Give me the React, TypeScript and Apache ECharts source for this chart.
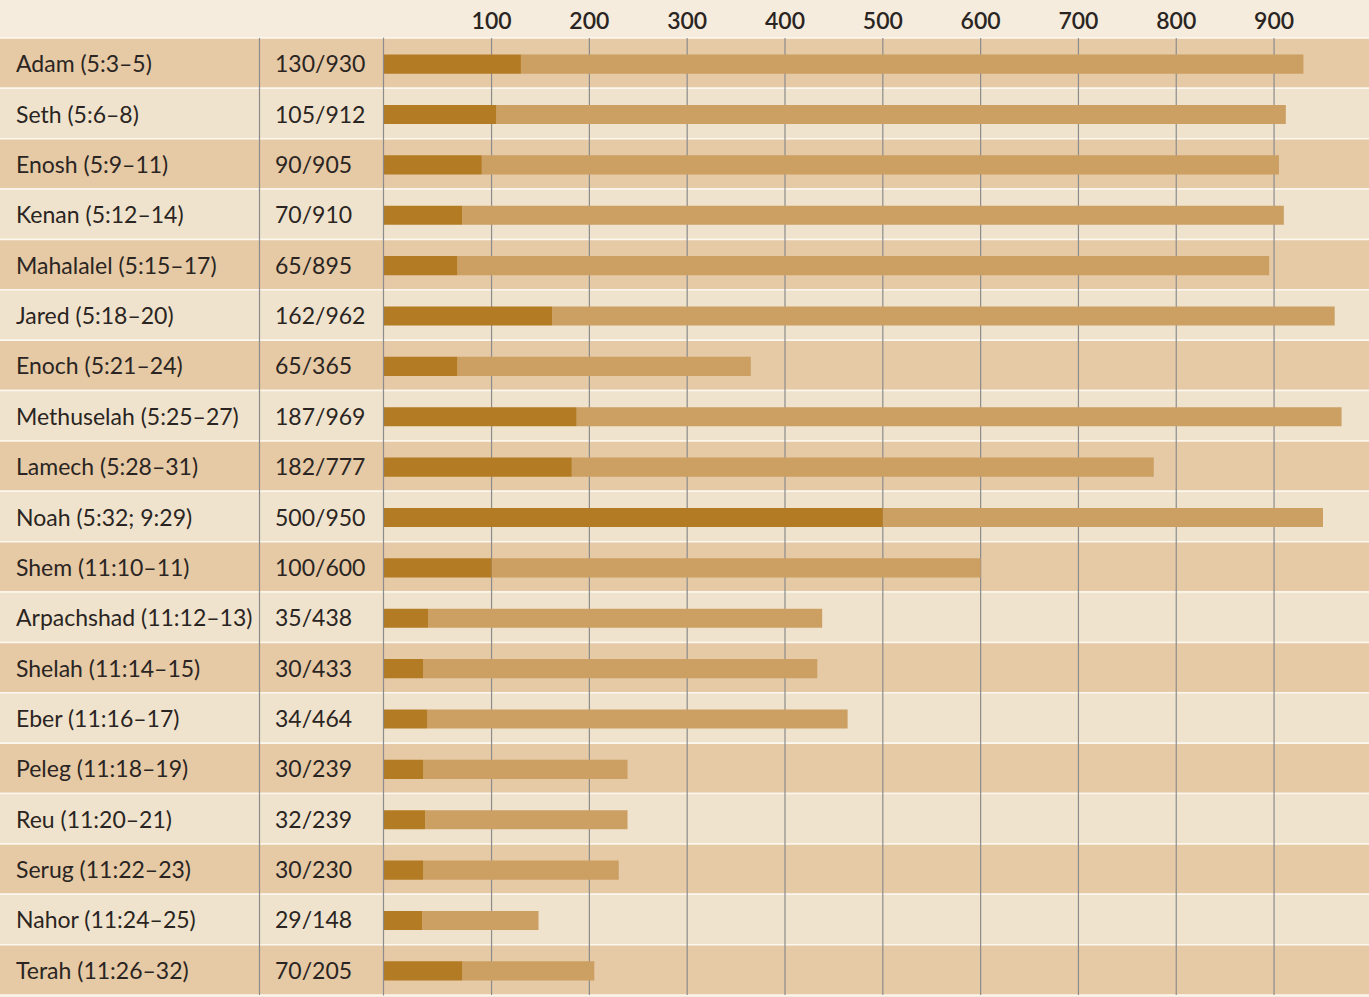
import React, { useEffect, useRef } from "react";
import * as echarts from "echarts";

const names = [
  "Adam (5:3–5)",
  "Seth (5:6–8)",
  "Enosh (5:9–11)",
  "Kenan (5:12–14)",
  "Mahalalel (5:15–17)",
  "Jared (5:18–20)",
  "Enoch (5:21–24)",
  "Methuselah (5:25–27)",
  "Lamech (5:28–31)",
  "Noah (5:32; 9:29)",
  "Shem (11:10–11)",
  "Arpachshad (11:12–13)",
  "Shelah (11:14–15)",
  "Eber (11:16–17)",
  "Peleg (11:18–19)",
  "Reu (11:20–21)",
  "Serug (11:22–23)",
  "Nahor (11:24–25)",
  "Terah (11:26–32)",
];
const fatherAge = [130, 105, 90, 70, 65, 162, 65, 187, 182, 500, 100, 35, 30, 34, 30, 32, 30, 29, 70];
const lifespan = [930, 912, 905, 910, 895, 962, 365, 969, 777, 950, 600, 438, 433, 464, 239, 239, 230, 148, 205];
const tickLabels = [100, 200, 300, 400, 500, 600, 700, 800, 900];

const FONT = "Lato";
const TEXT = "#2a2522";
const ROW_DARK = "#e6c9a5";
const ROW_LIGHT = "#f0e3cd";
const HEADER = "#f5ecdd";
const SEP = "#fcf7ef";
const BAR_DARK = "#b37b24";
const BAR_LIGHT = "#cc9f63";
const RULE = "#8c8c8c";

export default function App() {
  const ref = useRef<HTMLDivElement>(null);
  useEffect(() => {
    if (!ref.current) return;
    const chart = echarts.init(ref.current, null, { renderer: "svg" });
    const top = 38;
    const bottom = 2;
    const option: any = {
      animation: false,
      backgroundColor: HEADER,
      grid: [
        { left: 0, right: 0, top, bottom },
        { left: 383, right: 0, top, bottom },
      ],
      xAxis: [
        { gridIndex: 0, type: "value", min: 0, max: 1, show: false },
        {
          gridIndex: 1,
          type: "value",
          position: "top",
          min: -11,
          max: 994,
          splitNumber: 10,
          z: 10,
          axisLine: { show: false },
          axisTick: { show: false },
          splitLine: { show: false },
          axisLabel: {
            margin: 7,
            color: TEXT,
            fontFamily: FONT,
            fontSize: 23,
            fontWeight: 600,
            formatter: (v: number) => (tickLabels.includes(v) ? String(v) : ""),
          },
        },
      ],
      yAxis: [
        {
          gridIndex: 0,
          type: "category",
          inverse: true,
          data: names,
          show: false,
        },
        {
          gridIndex: 1,
          type: "category",
          inverse: true,
          data: names,
          z: 10,
          axisLine: { show: true, onZero: false, lineStyle: { color: RULE, width: 1.2 } },
          axisTick: { show: false },
          splitLine: { show: false },
          axisLabel: {
            align: "left",
            margin: 367,
            formatter: (v: string, i: number) => `{n|${v}}{r|${fatherAge[i]}/${lifespan[i]}}`,
            rich: {
              n: { width: 259, color: TEXT, fontFamily: FONT, fontSize: 23 },
              r: { color: TEXT, fontFamily: FONT, fontSize: 23 },
            },
          },
        },
      ],
      graphic: [
        {
          type: "line",
          shape: { x1: 259.5, y1: top, x2: 259.5, y2: 997 - bottom },
          style: { stroke: RULE, lineWidth: 1.2 },
          z: 50,
        },
      ],
      series: [
        {
          type: "custom",
          name: "rows",
          xAxisIndex: 0,
          yAxisIndex: 0,
          z: 1,
          silent: true,
          data: names.map((_, i) => [0, i]),
          encode: { x: 0, y: 1 },
          renderItem: (params: any, api: any) => {
            const yi = api.value(1);
            const p = api.coord([0, yi]);
            const bw = api.size([0, 1])[1];
            const cs = params.coordSys;
            const y0 = p[1] - bw / 2;
            return {
              type: "group",
              children: [
                {
                  type: "rect",
                  shape: { x: cs.x, y: y0, width: cs.width, height: bw },
                  style: { fill: yi % 2 === 0 ? ROW_DARK : ROW_LIGHT },
                },
                {
                  type: "line",
                  shape: { x1: cs.x, y1: y0, x2: cs.x + cs.width, y2: y0 },
                  style: { stroke: SEP, lineWidth: 1.5 },
                },
                {
                  type: "line",
                  shape: { x1: cs.x, y1: y0 + bw, x2: cs.x + cs.width, y2: y0 + bw },
                  style: { stroke: SEP, lineWidth: 1.5 },
                },
              ],
            };
          },
        },
        {
          type: "custom",
          name: "grid lines",
          xAxisIndex: 1,
          yAxisIndex: 1,
          z: 2,
          silent: true,
          data: tickLabels.map((v) => [v, 0]),
          encode: { x: 0, y: 1 },
          renderItem: (params: any, api: any) => {
            const p = api.coord([api.value(0), 0]);
            const cs = params.coordSys;
            return {
              type: "line",
              shape: { x1: p[0], y1: cs.y, x2: p[0], y2: cs.y + cs.height },
              style: { stroke: RULE, lineWidth: 1.2 },
            };
          },
        },
        {
          type: "custom",
          name: "lifespan",
          xAxisIndex: 1,
          yAxisIndex: 1,
          z: 3,
          data: names.map((_, i) => [fatherAge[i], lifespan[i], i]),
          encode: { x: [0, 1], y: 2 },
          renderItem: (params: any, api: any) => {
            const yi = api.value(2);
            const pF = api.coord([api.value(0), yi]);
            const pL = api.coord([api.value(1), yi]);
            const h = api.size([0, 1])[1] * 0.38;
            const x0 = params.coordSys.x + 0.6;
            const yc = pF[1] + 1;
            return {
              type: "group",
              children: [
                {
                  type: "rect",
                  shape: { x: pF[0], y: yc - h / 2, width: pL[0] - pF[0], height: h },
                  style: { fill: BAR_LIGHT },
                },
                {
                  type: "rect",
                  shape: { x: x0, y: yc - h / 2, width: pF[0] - x0, height: h },
                  style: { fill: BAR_DARK },
                },
              ],
            };
          },
        },
      ],
    };
    chart.setOption(option);
    return () => chart.dispose();
  }, []);
  return (
    <div
      ref={ref}
      style={{ position: "absolute", left: 0, top: 0, width: 1369, height: 997 }}
    />
  );
}
